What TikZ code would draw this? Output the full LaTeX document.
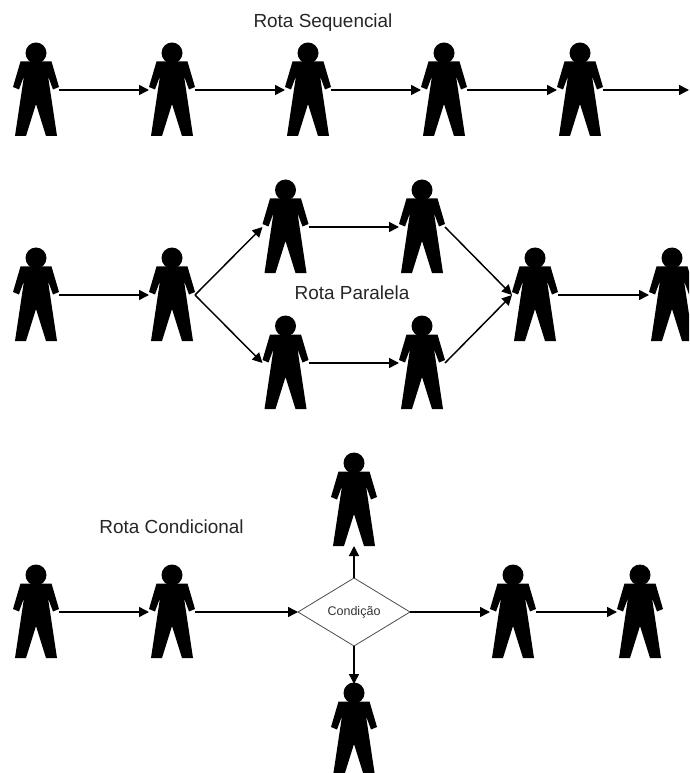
\documentclass[tikz,border=0pt]{standalone}
\usepackage{fontspec}
\setmainfont{Liberation Sans}
\usetikzlibrary{arrows.meta,shapes.geometric}
\tikzset{
  personbox/.style={minimum width=34.5pt,minimum height=69pt,inner sep=0pt,outer sep=0pt},
  flow/.style={draw=black,line width=1.1pt,-{Triangle[length=7.5pt,width=7.5pt]}},
  cond/.style={diamond,draw=black!70,line width=.6pt,inner sep=0pt,outer sep=0pt,minimum width=84pt,minimum height=51pt,aspect=1.65,font=\fontsize{9.4}{10}\selectfont,text=black!80},
  title/.style={font=\fontsize{14.2}{16}\selectfont,text=black!85,inner sep=0pt,anchor=base}
}
\newcommand{\persona}[3]{%
  \node[personbox] (#1) at (#2,#3) {};
  \begin{scope}[shift={(#1.center)}]
    \fill (0,-37) circle[radius=10.5];
    \fill (-15.5,-28.5) -- (15.5,-28.5) -- (23,-3) -- (17,-0.5) -- (12,-14) -- (21,46) -- (10,46) -- (0,14) -- (-10,46) -- (-21,46) -- (-12,-14) -- (-17,-0.5) -- (-23,-3) -- cycle;
  \end{scope}}
\begin{document}
\begin{tikzpicture}[x=0.75pt,y=-0.75pt]
\useasboundingbox (0,0) rectangle (689,773);
\clip (0,0) rectangle (689,773);
\node[title] (t1) at (323,28) {Rota Sequencial};
\node[title] (t2) at (352,299) {Rota Paralela};
\node[title] (t3) at (171.5,533) {Rota Condicional};
% row 1
\persona{a1}{36}{90}\persona{a2}{172}{90}\persona{a3}{308}{90}\persona{a4}{444}{90}\persona{a5}{580}{90}
\coordinate (aend) at (689,90);
\draw[flow] (a1.east) -- (a2.west);
\draw[flow] (a2.east) -- (a3.west);
\draw[flow] (a3.east) -- (a4.west);
\draw[flow] (a4.east) -- (a5.west);
\draw[flow] (a5.east) -- (aend);
% row 2
\persona{b1}{36}{295}\persona{b2}{172}{295}
\persona{u1}{285.5}{227}\persona{u2}{422}{227}
\persona{d1}{285.5}{363}\persona{d2}{422}{363}
\persona{b3}{535}{295}\persona{b4}{672}{295}
\draw[flow] (b1.east) -- (b2.west);
\draw[flow] (b2.east) -- (u1.west);
\draw[flow] (b2.east) -- (d1.west);
\draw[flow] (u1.east) -- (u2.west);
\draw[flow] (d1.east) -- (d2.west);
\draw[flow] (u2.east) -- (b3.west);
\draw[flow] (d2.east) -- (b3.west);
\draw[flow] (b3.east) -- (b4.west);
% row 3
\persona{c1}{36}{612}\persona{c2}{172}{612}
\node[cond] (k) at (354,612) {Condição};
\persona{c3}{513}{612}\persona{c4}{640}{612}
\persona{top}{354}{500}\persona{bot}{354}{730}
\draw[flow] (c1.east) -- (c2.west);
\draw[flow] (c2.east) -- (k.west);
\draw[flow] (k.east) -- (c3.west);
\draw[flow] (c3.east) -- (c4.west);
\draw[flow] (k.north) -- (top.south);
\draw[flow] (k.south) -- (bot.north);
\end{tikzpicture}
\end{document}
